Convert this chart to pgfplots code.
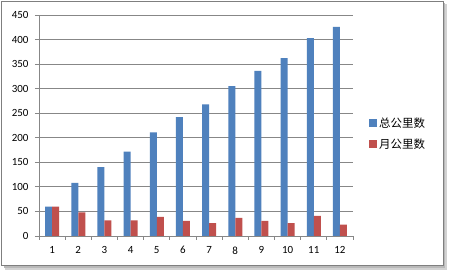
\documentclass[border=0pt]{standalone}
\usepackage{pgfplots}
\pgfplotsset{compat=1.18}
\usepackage{fontspec}
\setmainfont{Carlito}
\newfontfamily\cjk{Noto Sans CJK SC}
\definecolor{xblue}{HTML}{4F81BD}
\definecolor{xred}{HTML}{C0504D}
\definecolor{xgrid}{HTML}{878787}
\definecolor{xframe}{HTML}{7F7F7F}
\begin{document}
\begin{tikzpicture}
\path[use as bounding box] (0bp,0bp) rectangle (449bp,273bp);
% shadow
\fill[gray!35] (5bp,3bp) rectangle (447bp,7bp);
\fill[gray!35] (443bp,3bp) rectangle (447bp,269bp);
\fill[gray!55] (4bp,5bp) rectangle (445bp,7.5bp);
\fill[gray!55] (443bp,5bp) rectangle (445bp,270bp);
% frame
\filldraw[draw=xframe, fill=white, line width=0.8bp] (1.5bp,8bp) rectangle (443bp,271.5bp);
\begin{axis}[
  at={(39bp,37bp)}, anchor=south west,
  scale only axis,
  width=314bp, height=221bp,
  xmin=0.5, xmax=12.5,
  ymin=0, ymax=450,
  ytick={0,50,...,450},
  xtick={1,...,12},
  minor xtick={0.5,1.5,...,12.5},
  axis x line*=bottom,
  axis y line*=left,
  axis line style={draw=xgrid, line width=0.8bp},
  x axis line style={-},
  y axis line style={-},
  tick align=outside,
  xtick style={draw=none},
  minor x tick style={draw=xgrid, line width=0.8bp},
  minor tick length=4bp,
  ytick style={draw=xgrid, line width=0.8bp},
  major tick length=4bp,
  ymajorgrids,
  grid style={draw=xgrid, line width=0.8bp},
  ybar=0pt,
  bar width=7bp,
  tick label style={font=\fontsize{11}{13}\selectfont, text=black},
  /pgf/number format/assume math mode=true,
  xticklabel style={yshift=-3bp},
  yticklabel style={xshift=-3bp},
  legend style={
    at={(axis description cs:1,0.5)}, anchor=west,
    xshift=16bp, yshift=-8bp,
    draw=none, fill=none,
    font=\cjk\fontsize{11.5}{13}\selectfont,
    row sep=6bp,
    inner sep=0pt,
    legend cell align=left,
  },
  legend image code/.code={\fill[#1] (0bp,-4bp) rectangle (8bp,4bp);},
  clip=false,
]
\addplot[fill=xblue, draw=none] coordinates {
(1,60) (2,108) (3,140) (4,172) (5,211) (6,242) (7,268) (8,305) (9,336) (10,362) (11,403) (12,426)};
\addlegendentry{总公里数}
\addplot[fill=xred, draw=none] coordinates {
(1,60) (2,48) (3,32) (4,32) (5,39) (6,31) (7,26) (8,37) (9,31) (10,26) (11,41) (12,23)};
\addlegendentry{月公里数}
\end{axis}
\end{tikzpicture}
\end{document}
